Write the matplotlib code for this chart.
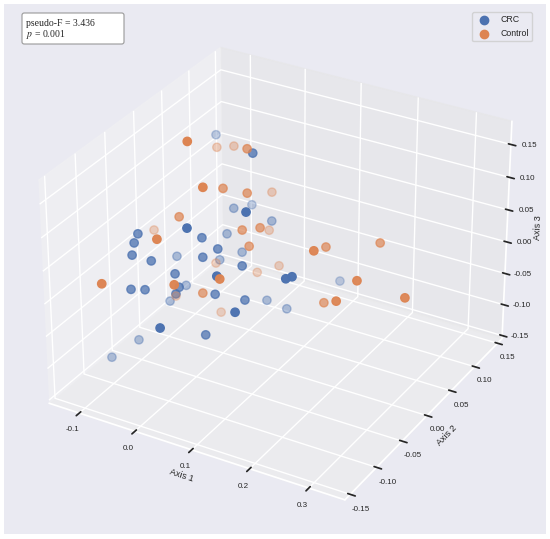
import matplotlib
matplotlib.use('Agg')
import matplotlib.pyplot as plt
import seaborn as sns
from matplotlib.patches import Rectangle, FancyBboxPatch

sns.set_theme(style='darkgrid')
plt.rcParams['font.family'] = ['Liberation Sans', 'DejaVu Sans']
plt.rcParams['mathtext.fontset'] = 'stix'

# PCoA coordinates (Axis 1, Axis 2, Axis 3)
crc_x = [-0.083, 0.033, -0.010, -0.016, 0.077, 0.039, 0.007, -0.088, -0.003, -0.016,
         -0.090, 0.021, 0.010, -0.088, -0.061, -0.076, 0.004, -0.017, 0.059, -0.026,
         0.062, -0.078, -0.059, -0.053, -0.016, -0.018, 0.033, 0.074, -0.070, 0.098,
         0.008, 0.035, -0.098, -0.129, 0.151, 0.158, 0.136, 0.060, 0.090]
crc_y = [0.076, 0.024, 0.067, 0.039, -0.035, 0.053, -0.069, -0.062, -0.033, 0.026,
         -0.067, -0.029, 0.027, -0.073, -0.066, -0.006, -0.039, 0.013, -0.024, -0.059,
         -0.073, -0.086, -0.080, -0.013, -0.062, -0.066, -0.047, -0.035, -0.026, -0.078,
         -0.120, -0.067, -0.056, -0.075, -0.041, -0.037, 0.081, 0.021, 0.027]
crc_z = [0.117, 0.149, 0.031, 0.043, 0.110, 0.027, 0.092, 0.055, 0.050, 0.012,
         0.044, 0.036, -0.011, 0.030, 0.023, -0.016, 0.026, -0.020, 0.016, 0.007,
         0.036, -0.011, -0.011, -0.051, -0.009, -0.017, -0.018, -0.025, -0.071, -0.006,
         -0.023, -0.066, -0.118, -0.140, 0.032, 0.034, -0.063, -0.070, -0.080]

ctl_x = [-0.022, -0.060, -0.037, 0.025, 0.013, 0.007, 0.040, 0.030, -0.040, -0.116,
         -0.027, 0.047, 0.069, 0.039, 0.061, -0.021, 0.067, -0.082, 0.011, -0.063,
         0.017, 0.003, 0.177, 0.162, 0.231, 0.065, 0.038, 0.243, 0.310, 0.178, 0.223]
ctl_y = [-0.037, 0.054, 0.062, 0.022, -0.046, -0.004, 0.006, 0.063, -0.036, -0.007,
         -0.088, -0.011, -0.001, 0.048, -0.013, 0.010, -0.073, -0.131, -0.097, -0.022,
         -0.053, -0.006, -0.017, 0.023, 0.051, 0.039, 0.026, -0.008, 0.009, 0.002, -0.025]
ctl_z = [0.193, 0.117, 0.119, 0.155, 0.139, 0.108, 0.102, 0.063, 0.075, 0.016,
         0.080, 0.059, 0.061, 0.016, 0.039, -0.024, 0.033, 0.029, 0.027, -0.064,
         -0.016, -0.084, 0.064, 0.038, 0.042, -0.027, -0.035, 0.029, 0.008, -0.029, 0.005]

x_ticks = [-0.1, 0.0, 0.1, 0.2, 0.3]
y_ticks = [-0.15, -0.10, -0.05, 0.00, 0.05, 0.10, 0.15]
z_ticks = [-0.15, -0.10, -0.05, 0.00, 0.05, 0.10, 0.15]

fig = plt.figure(figsize=(5.5, 5.39), dpi=100)
fig.patch.set_facecolor('white')
fig.patches.append(Rectangle((4 / 550, 5 / 539), 542 / 550, 530 / 539,
                             transform=fig.transFigure, facecolor='#eaeaf2',
                             edgecolor='none', zorder=-10))

ax = fig.add_axes([0.0073, 0.0110, 0.9768, 0.9768], projection='3d')
ax.patch.set_alpha(0)

ax.scatter(crc_x, crc_y, crc_z, c='#4c72b0', s=36, label='CRC')
ax.scatter(ctl_x, ctl_y, ctl_z, c='#dd8452', s=36, label='Control')

ax.set_xlim(-0.155, 0.36)
ax.set_ylim(-0.16, 0.16)
ax.set_zlim(-0.155, 0.185)
ax.set_xticks(x_ticks)
ax.set_yticks(y_ticks)
ax.set_zticks(z_ticks)
ax.set_xticklabels(['%.1f' % t for t in x_ticks])
ax.set_yticklabels(['%.2f' % t for t in y_ticks])
ax.set_zticklabels(['%.2f' % t for t in z_ticks])
ax.tick_params(labelsize=5.8, colors='#262626')
ax.tick_params(axis='x', pad=-1)
ax.tick_params(axis='y', pad=-1)
ax.tick_params(axis='z', pad=0)
ax.set_xlabel('Axis 1', fontsize=6.5, labelpad=-8)
ax.set_ylabel('Axis 2', fontsize=6.5, labelpad=-8)
ax.set_zlabel('Axis 3', fontsize=6.5, labelpad=-7)

fig.legend(loc='upper right', bbox_to_anchor=(532 / 550, 1 - 12 / 539),
           bbox_transform=fig.transFigure, fontsize=6.3, borderaxespad=0)

fig.patches.append(FancyBboxPatch((22 / 550, 1 - 44 / 539), 102 / 550, 31 / 539,
                                  boxstyle='round,pad=0,rounding_size=0.004',
                                  transform=fig.transFigure, facecolor='white',
                                  edgecolor='#999999', linewidth=0.8, zorder=5))
fig.text(26 / 550, 1 - 19 / 539, 'pseudo-F = 3.436\n$p$ = 0.001', va='top', ha='left',
         fontsize=7, family=['Liberation Serif', 'DejaVu Serif'], color='#262626',
         linespacing=0.95, zorder=6)

fig.savefig('out.png', dpi=100, facecolor='white')
